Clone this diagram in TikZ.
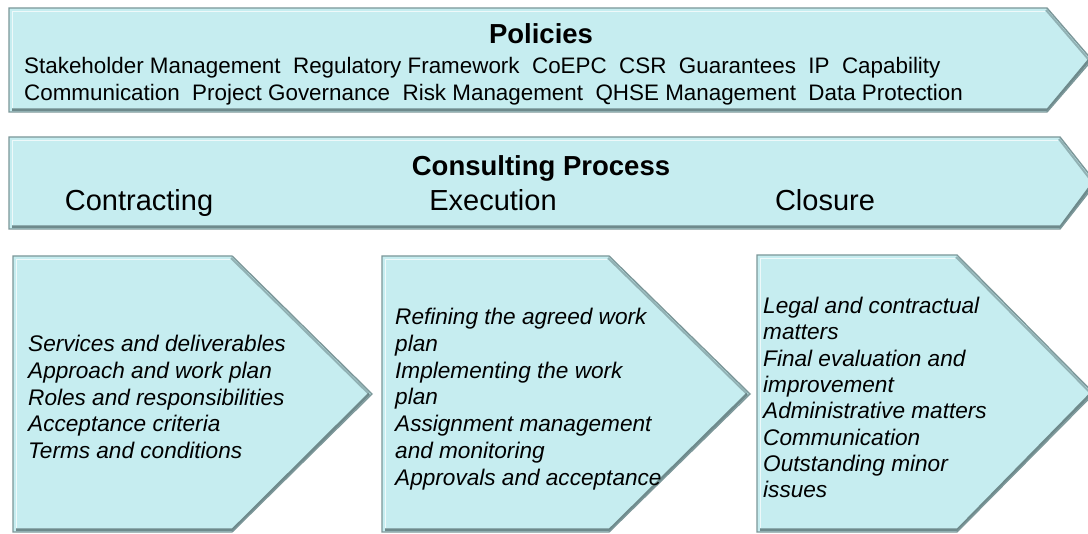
\documentclass[tikz,border=0pt]{standalone}
\usepackage{fontspec}
\setmainfont{Liberation Sans}
\definecolor{boxfill}{HTML}{C6EDF0}
\definecolor{boxline}{HTML}{7C9799}
\definecolor{bevdk}{HTML}{51696B}
\tikzset{
  chevfill/.style={fill=boxfill},
  chevline/.style={draw=boxline, line width=1.4pt, line join=miter},
  bevlight/.style={draw=white, opacity=0.7, line width=1.6pt},
  bevdark/.style={draw=bevdk, opacity=0.75, line width=2.6pt},
  bevdarkup/.style={draw=bevdk, opacity=0.45, line width=2pt},
  txt/.style={inner sep=0pt, text=black},
  boxtxt/.style={txt, anchor=north west, align=left, font=\fontsize{22.6}{26.8}\selectfont\itshape},
  headtxt/.style={txt, anchor=base, font=\fontsize{27.5}{30}\selectfont\bfseries},
  phasetxt/.style={txt, anchor=base, font=\fontsize{29}{32}\selectfont},
}
\newcommand\chevshape[5]{% left, top, body end, tip x, bottom
  \pgfmathsetmacro\midy{(#2+#5)/2}
  \fill[chevfill] (#1,#2) -- (#3,#2) -- (#4,\midy) -- (#3,#5) -- (#1,#5) -- cycle;
  \draw[bevdark] (#1+3,#5-2.2) -- (#3+0.5,#5-2.2) -- (#4-3,\midy);
  \draw[bevdarkup] (#4-3,\midy) -- (#3-1,#2+2);
  \draw[bevlight] (#1+3.5,#5-4) -- (#1+3.5,#2+3.5) -- (#3-2,#2+3.5);
  \draw[chevline] (#1,#2) -- (#3,#2) -- (#4,\midy) -- (#3,#5) -- (#1,#5) -- cycle;
}
\begin{document}
\begin{tikzpicture}[x=1pt,y=-1pt]
\clip (0,0) rectangle (1088,534);
\fill[white] (0,0) rectangle (1088,534);

% Policies arrow
\chevshape{9}{8}{1047}{1092}{112}
\node[headtxt] (pol) at (541,44) {Policies};
\node[txt, anchor=north west, align=left, font=\fontsize{22.4}{27}\selectfont] (polist) at (24,57)
  {Stakeholder Management\ \ Regulatory Framework\ \ CoEPC\ \ CSR\ \ Guarantees\ \ IP\ \ Capability\\
   Communication\ \ Project Governance\ \ Risk Management\ \ QHSE Management\ \ Data Protection};

% Consulting process arrow
\chevshape{9}{137}{1060}{1096}{229}
\node[headtxt] (cp) at (541,176) {Consulting Process};
\node[phasetxt] (contr) at (139,211) {Contracting};
\node[phasetxt] (exec) at (493,211) {Execution};
\node[phasetxt] (clos) at (825,211) {Closure};

% Phase chevrons
\chevshape{13}{256}{232}{372}{532}
\chevshape{382}{256}{609}{750}{532}
\chevshape{757}{255}{957}{1094}{532}

\node[boxtxt] (t1) at (28,335) {Services and deliverables\\Approach and work plan\\Roles and responsibilities\\Acceptance criteria\\Terms and conditions};
\node[boxtxt] (t2) at (395,308) {Refining the agreed work\\plan\\Implementing the work\\plan\\Assignment management\\and monitoring\\Approvals and acceptance};
\node[boxtxt, font=\fontsize{22.6}{26.3}\selectfont\itshape] (t3) at (763,297) {Legal and contractual\\matters\\Final evaluation and\\improvement\\Administrative matters\\Communication\\Outstanding minor\\issues};
\end{tikzpicture}
\end{document}
